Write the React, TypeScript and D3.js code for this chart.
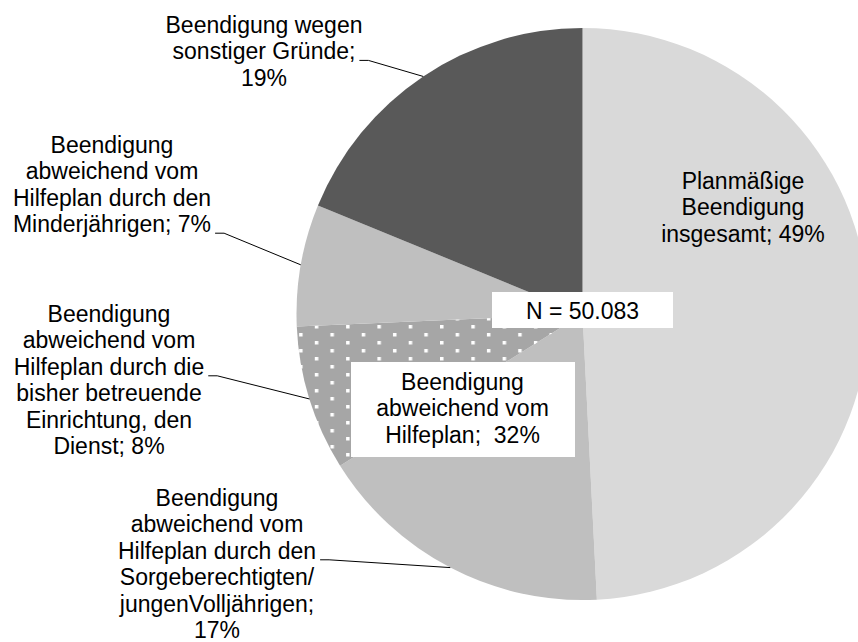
import React, { useEffect, useRef } from "react";
import * as d3 from "d3";

// slices, clockwise from 12 o'clock
const categories = [
  "Planmäßige Beendigung",
  "Sorgeberechtigte/junge Volljährige",
  "Einrichtung/Dienst",
  "Minderjährige",
  "Sonstige Gründe",
];
const shares = [49.2, 16.9, 8.2, 6.9, 18.8];
const labelLines = [
  ["Planmäßige", "Beendigung", "insgesamt; 49%"],
  ["Beendigung", "abweichend vom", "Hilfeplan durch den", "Sorgeberechtigten/", "jungenVolljährigen;", "17%"],
  ["Beendigung", "abweichend vom", "Hilfeplan durch die", "bisher betreuende", "Einrichtung, den", "Dienst; 8%"],
  ["Beendigung", "abweichend vom", "Hilfeplan durch den", "Minderjährigen; 7%"],
  ["Beendigung wegen", "sonstiger Gründe;", "19%"],
];
const totalLabel = "N = 50.083";
const groupLabel = ["Beendigung", "abweichend vom", "Hilfeplan;  32%"];

// layout of the labels: centre x, first baseline, line that carries the leader (-1 = none)
const labelLayout = [
  { x: 743, y: 189, lead: -1 },
  { x: 217, y: 506, lead: 2 },
  { x: 109, y: 322, lead: 2 },
  { x: 112, y: 153, lead: 3 },
  { x: 264, y: 33, lead: 1 },
];
const fills = ["#d9d9d9", "#bfbfbf", "url(#dots)", "#bfbfbf", "#595959"];

const W = 858;
const H = 642;
const FONT = "'Liberation Sans', Arial, sans-serif";

export default function App() {
  const svgRef = useRef<SVGSVGElement | null>(null);

  useEffect(() => {
    document.body.style.margin = "0";
    if (!svgRef.current) return;
    const svg = d3.select(svgRef.current);
    svg.selectAll("*").remove();

    const cx = 582.5;
    const cy = 314;
    const radius = 286;
    const lineH = 26.4;

    // dotted pattern for the 8% slice
    const defs = svg.append("defs");
    const pat = defs
      .append("pattern")
      .attr("id", "dots")
      .attr("patternUnits", "userSpaceOnUse")
      .attr("x", 327)
      .attr("y", 331)
      .attr("width", 31.3)
      .attr("height", 16);
    pat.append("rect").attr("width", 31.3).attr("height", 16).attr("fill", "#a6a6a6");
    pat.append("rect").attr("x", 0).attr("y", 0).attr("width", 3.5).attr("height", 3.5).attr("fill", "#fff");
    pat.append("rect").attr("x", 15.6).attr("y", 8).attr("width", 3.5).attr("height", 3.5).attr("fill", "#fff");

    const pie = d3
      .pie<number>()
      .sort(null)
      .startAngle(0)
      .endAngle(2 * Math.PI)
      .value((d) => d);
    const arcs = pie(shares);
    const arc = d3.arc<d3.PieArcDatum<number>>().innerRadius(0).outerRadius(radius);

    const g = svg.append("g").attr("transform", `translate(${cx},${cy})`);
    g.selectAll("path.slice")
      .data(arcs)
      .enter()
      .append("path")
      .attr("class", "slice")
      .attr("d", arc)
      .attr("fill", (d, i) => fills[i])
      .append("title")
      .text((d, i) => `${categories[i]}: ${shares[i]}%`);

    // labels
    const labels = svg.append("g").style("font-family", FONT).style("font-size", "23px").attr("fill", "#000");
    arcs.forEach((a, i) => {
      const lay = labelLayout[i];
      const t = labels.append("text").attr("text-anchor", "middle");
      const spans = labelLines[i].map((ln, k) =>
        t.append("tspan").attr("x", lay.x).attr("y", lay.y + k * lineH).text(ln)
      );
      if (lay.lead < 0) return;
      const sp = spans[lay.lead].node() as SVGTSpanElement;
      const w = sp.getComputedTextLength();
      const x0 = lay.x + w / 2 + 4;
      const y0 = lay.y + lay.lead * lineH + 1;
      const mid = (a.startAngle + a.endAngle) / 2;
      const x2 = cx + Math.sin(mid) * radius;
      const y2 = cy - Math.cos(mid) * radius;
      svg
        .append("path")
        .attr("d", d3.line()([[x0, y0], [x0 + 9, y0], [x2, y2]]))
        .attr("fill", "none")
        .attr("stroke", "#000")
        .attr("stroke-width", 1);
    });

    // N box
    svg.append("rect").attr("x", 492).attr("y", 292).attr("width", 181).attr("height", 36).attr("fill", "#fff");
    svg
      .append("text")
      .attr("x", 582.5)
      .attr("y", 319)
      .attr("text-anchor", "middle")
      .style("font-family", FONT)
      .style("font-size", "23px")
      .text(totalLabel);

    // grouped label box
    svg.append("rect").attr("x", 351).attr("y", 362).attr("width", 224).attr("height", 95).attr("fill", "#fff");
    const gt = svg
      .append("text")
      .attr("text-anchor", "middle")
      .style("font-family", FONT)
      .style("font-size", "23px")
      .style("white-space", "pre");
    groupLabel.forEach((ln, k) => {
      gt.append("tspan").attr("x", 462.5).attr("y", 390 + k * lineH).text(ln);
    });
  }, []);

  return (
    <svg ref={svgRef} width={W} height={H} style={{ display: "block", background: "#fff" }} />
  );
}
